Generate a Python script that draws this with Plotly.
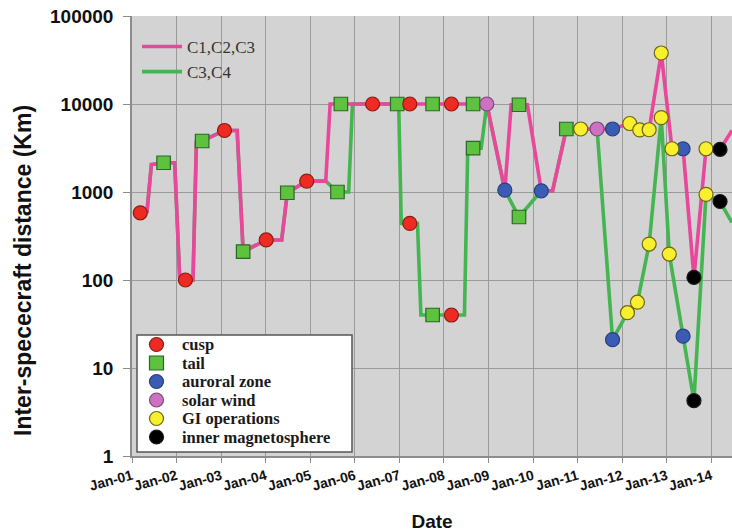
import plotly.graph_objects as go

# ---------------- data ----------------
pink_dates = ["2001-03-10", "2001-05-04", "2001-06-09", "2001-09-17", "2001-12-17", "2002-01-27",
              "2002-03-15", "2002-05-16", "2002-06-13", "2002-07-30", "2003-01-29", "2003-05-13",
              "2003-07-01", "2004-01-06", "2004-05-12", "2004-06-27", "2004-12-03", "2005-05-08",
              "2005-06-13", "2005-09-09", "2006-05-27", "2006-12-15", "2007-03-28", "2007-10-01",
              "2008-03-03", "2008-08-28", "2008-12-18", "2009-05-15", "2009-07-06", "2009-09-08",
              "2009-11-16", "2010-03-10", "2010-06-10", "2010-10-01", "2011-01-27", "2011-06-10",
              "2011-10-15", "2012-03-04", "2012-05-25", "2012-08-10", "2012-11-17", "2013-02-13",
              "2013-05-15", "2013-08-12", "2013-11-19", "2014-03-14", "2014-06-20"]
pink_vals = [580, 600, 2050, 2150, 2150, 105,
             100, 100, 3700, 3800, 5000, 5000,
             210, 285, 285, 980, 1330, 1330,
             10000, 10000, 10000, 10000, 10000, 10000,
             10000, 10000, 10000, 1050, 9800, 9800,
             9800, 1030, 1030, 5200, 5200, 5200,
             5200, 6000, 5070, 5100, 38000, 3100,
             3100, 107, 3100, 3050, 5000]

green_dates = ["2001-03-10", "2001-05-04", "2001-06-09", "2001-09-17", "2001-12-17", "2002-01-27",
               "2002-03-15", "2002-05-16", "2002-06-13", "2002-07-30", "2003-01-29", "2003-05-13",
               "2003-07-01", "2004-01-06", "2004-05-12", "2004-06-27", "2004-12-03", "2005-05-08",
               "2005-08-12", "2005-11-12", "2005-12-13", "2006-05-27", "2006-12-15", "2006-12-27",
               "2007-01-17", "2007-03-28", "2007-05-30", "2007-06-27", "2007-10-01", "2008-03-03",
               "2008-06-18", "2008-07-15", "2008-08-28", "2008-11-02", "2008-12-18", "2009-05-15",
               "2009-09-08", "2010-03-10", "2010-06-10", "2010-10-01", "2011-01-27", "2011-06-10",
               "2011-10-15", "2012-02-14", "2012-05-06", "2012-08-10", "2012-11-17", "2013-01-22",
               "2013-05-15", "2013-08-12", "2013-11-19", "2014-03-14", "2014-06-20"]
green_vals = [580, 600, 2050, 2150, 2150, 105,
              100, 100, 3700, 3800, 5000, 5000,
              210, 285, 285, 980, 1330, 1330,
              1000, 1000, 10000, 10000, 10000, 10000,
              440, 440, 440, 40, 40, 40,
              40, 3150, 3150, 3150, 10000, 1050,
              520, 1030, 1030, 5200, 5200, 5200,
              21, 42.5, 56, 256, 7000, 197,
              23, 4.25, 940, 780, 450]

cusp_dates = ["2001-03-10", "2002-03-15", "2003-01-29", "2004-01-06", "2004-12-03",
              "2006-05-27", "2007-03-28", "2007-03-28", "2008-03-03", "2008-03-03"]
cusp_vals = [580, 100, 5000, 285, 1330, 10000, 10000, 440, 10000, 40]

tail_dates = ["2001-09-17", "2002-07-30", "2003-07-01", "2004-06-27", "2005-08-12", "2005-09-09",
              "2006-12-15", "2007-10-01", "2007-10-01", "2008-08-28", "2008-08-28", "2009-09-08",
              "2009-09-08", "2010-10-01"]
tail_vals = [2150, 3800, 210, 980, 1000, 10000, 10000, 10000, 40, 10000, 3150, 520, 9800, 5200]

auroral_dates = ["2009-05-15", "2010-03-10", "2011-10-15", "2011-10-15", "2013-05-15", "2013-05-15"]
auroral_vals = [1050, 1030, 21, 5200, 23, 3100]

solar_dates = ["2008-12-18", "2011-06-10"]
solar_vals = [10000, 5200]

gi_dates = ["2011-01-27", "2012-02-14", "2012-03-04", "2012-05-06", "2012-05-25", "2012-08-10",
            "2012-08-10", "2012-11-17", "2012-11-17", "2013-01-22", "2013-02-13", "2013-11-19",
            "2013-11-19"]
gi_vals = [5200, 42.5, 6000, 56, 5070, 5100, 256, 38000, 7000, 197, 3100, 3100, 940]

inner_dates = ["2013-08-12", "2013-08-12", "2014-03-14", "2014-03-14"]
inner_vals = [107, 4.25, 3050, 780]

y_tickvals = [1, 10, 100, 1000, 10000, 100000]
y_ticktext = ["1", "10", "100", "1000", "10000", "100000"]

line_names = ["C1,C2,C3", "C3,C4"]
category_names = ["cusp", "tail", "auroral zone", "solar wind", "GI operations", "inner magnetosphere"]

# ---------------- styles ----------------
PINK = "#e8479b"
GREEN = "#45b551"
cat_styles = {
    "cusp": dict(fill="#ee2b22", line="#8a1c12", symbol="circle"),
    "tail": dict(fill="#5dc23e", line="#2c662a", symbol="square"),
    "auroral zone": dict(fill="#3b5cb3", line="#283f80", symbol="circle"),
    "solar wind": dict(fill="#cc72c0", line="#7a4a78", symbol="circle"),
    "GI operations": dict(fill="#f8ef2e", line="#6f6512", symbol="circle"),
    "inner magnetosphere": dict(fill="#000000", line="#1a1a1a", symbol="circle"),
}
cat_data = {
    "cusp": (cusp_dates, cusp_vals),
    "tail": (tail_dates, tail_vals),
    "auroral zone": (auroral_dates, auroral_vals),
    "solar wind": (solar_dates, solar_vals),
    "GI operations": (gi_dates, gi_vals),
    "inner magnetosphere": (inner_dates, inner_vals),
}

W, H = 732, 532
ML, MR, MT, MB = 132, 0, 16, 76
PW, PH = W - ML - MR, H - MT - MB


def px_x(px):
    return (px - ML) / PW


def px_y(py):
    return (H - MB - py) / PH


SANS = "Liberation Sans, Arial, sans-serif"
SERIF = "Liberation Serif, Times New Roman, serif"

fig = go.Figure()

fig.add_trace(go.Scatter(x=green_dates, y=green_vals, mode="lines", name=line_names[1],
                         line=dict(color=GREEN, width=3.6), legendrank=2, hoverinfo="skip"))
fig.add_trace(go.Scatter(x=pink_dates, y=pink_vals, mode="lines", name=line_names[0],
                         line=dict(color=PINK, width=3.6), legendrank=1, hoverinfo="skip"))

# squares first, circles on top
for cat in ["tail", "cusp", "auroral zone", "solar wind", "GI operations", "inner magnetosphere"]:
    st = cat_styles[cat]
    xs, ys = cat_data[cat]
    fig.add_trace(go.Scatter(x=xs, y=ys, mode="markers", name=cat, showlegend=False,
                             marker=dict(symbol=st["symbol"], size=14 if st["symbol"] == "circle" else 13.5,
                                         color=st["fill"], line=dict(color=st["line"], width=1.2))))

# ---------------- category legend box (built from the category list) ----------------
shapes = [dict(type="rect", xref="paper", yref="paper", x0=px_x(137), x1=px_x(352),
               y0=px_y(452), y1=px_y(335), fillcolor="white",
               line=dict(color="#555555", width=1.5), layer="above")]
annotations = []
row_y = [344.5, 363, 381.5, 400, 418.5, 437]
for cat, ry in zip(category_names, row_y):
    st = cat_styles[cat]
    shapes.append(dict(type="circle" if st["symbol"] == "circle" else "rect",
                       xref="paper", yref="paper", xsizemode="pixel", ysizemode="pixel",
                       xanchor=px_x(156.5), yanchor=px_y(ry), x0=-7, x1=7, y0=-7, y1=7,
                       fillcolor=st["fill"], line=dict(color=st["line"], width=1.2), layer="above"))
    annotations.append(dict(x=px_x(180), y=px_y(ry), xref="paper", yref="paper", text=cat,
                            showarrow=False, xanchor="left", yanchor="middle",
                            font=dict(family=SERIF, size=16.5, color="#1a1a1a", weight="bold")))

# y-axis title as a rotated annotation (placed like the reference, slightly below centre)
annotations.append(dict(x=px_x(23), y=px_y(271), xref="paper", yref="paper",
                        text="Inter-spececraft distance (Km)", textangle=-90, showarrow=False,
                        xanchor="center", yanchor="middle",
                        font=dict(family=SANS, size=23, color="#111111", weight="bold")))

fig.update_layout(
    width=W, height=H,
    margin=dict(l=ML, r=MR, t=MT, b=MB, autoexpand=False),
    paper_bgcolor="white",
    plot_bgcolor="#d3d3d3",
    shapes=shapes,
    annotations=annotations,
    showlegend=True,
    legend=dict(x=px_x(137), y=px_y(29), xanchor="left", yanchor="top",
                bgcolor="rgba(0,0,0,0)", borderwidth=0, itemwidth=40,
                font=dict(family=SERIF, size=17, color="#333333")),
    xaxis=dict(type="date", range=["2001-01-01", "2014-06-20"],
               tick0="2001-01-01", dtick="M12", tickformat="%b-%y", tickangle=-15,
               showgrid=True, gridcolor="#9a9a9a", gridwidth=1,
               showline=True, linecolor="#8c8c8c", linewidth=1.5,
               ticks="outside", ticklen=5, tickcolor="#8c8c8c",
               tickfont=dict(family=SANS, size=14, color="#111111", weight="bold"),
               title=dict(text="Date", standoff=26,
                          font=dict(family=SANS, size=19, color="#111111", weight="bold")),
               zeroline=False, automargin=False),
    yaxis=dict(type="log", range=[0, 5], tickvals=y_tickvals, ticktext=y_ticktext,
               showgrid=True, gridcolor="#9a9a9a", gridwidth=1,
               showline=True, linecolor="#8c8c8c", linewidth=1.5,
               ticks="outside", ticklen=7, tickcolor="#8c8c8c", ticklabelstandoff=6,
               tickfont=dict(family=SANS, size=19, color="#111111", weight="bold"),
               zeroline=False, automargin=False),
)

fig.write_html("out.html")
